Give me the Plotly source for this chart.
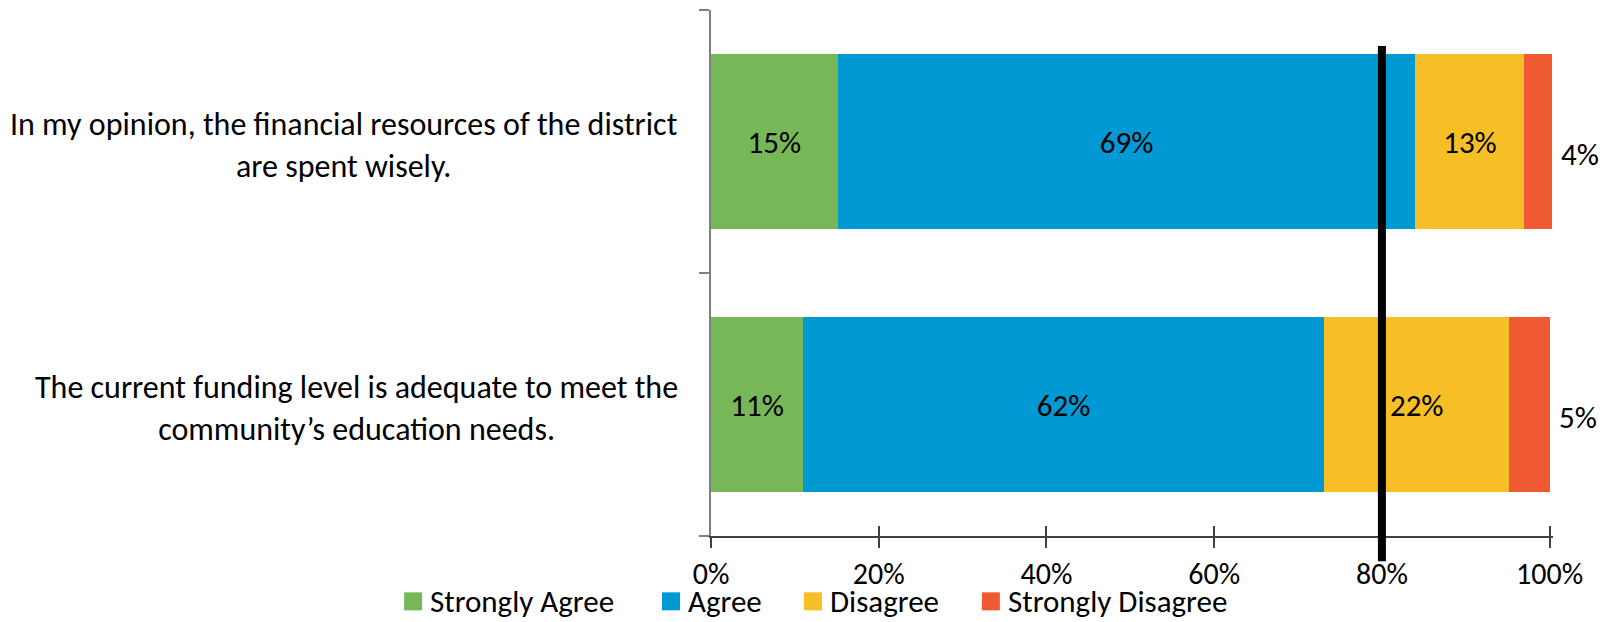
import plotly.graph_objects as go

# ---------------- data ----------------
questions = [
    "In my opinion, the financial resources of the district<br>are spent wisely.",
    "The current funding level is adequate to meet the<br>community’s education needs.",
]
series_names = ["Strongly Agree", "Agree", "Disagree", "Strongly Disagree"]
strongly_agree = [15.1, 11.0]
agree = [68.9, 62.1]
disagree = [13.0, 22.1]
strongly_disagree = [3.3, 4.9]
strongly_agree_labels = ["15%", "11%"]
agree_labels = ["69%", "62%"]
disagree_labels = ["13%", "22%"]
strongly_disagree_labels = ["4%", "5%"]
target = 80
x_ticks = [0, 20, 40, 60, 80, 100]
x_tick_labels = ["0%", "20%", "40%", "60%", "80%", "100%"]

# ---------------- style ----------------
colors = ["#77B757", "#0099D3", "#F7BF26", "#F05A32"]
FONT = "Carlito, Calibri, Lato, sans-serif"
FS_CAT = 32
FS_LAB = 31
FS_TICK = 30
FS_LEG = 31
PAGE_W, PAGE_H = 1615, 622
OFF = 8  # default body margin of the html page
W, H = PAGE_W - OFF, PAGE_H - OFF
L_PX, R_PX, T_PX, B_PX = 711, 1553.4, 10, 535.7  # plot area in page pixels


def px_x(px):
    return (px - L_PX) / (R_PX - L_PX)


def px_y(py):
    return (B_PX - py) / (B_PX - T_PX)


fig = go.Figure()
values = [strongly_agree, agree, disagree, strongly_disagree]
labels = [strongly_agree_labels, agree_labels, disagree_labels, [""] * len(questions)]
for name, vals, labs, col in zip(series_names, values, labels, colors):
    fig.add_trace(go.Bar(
        y=questions, x=vals, name=name, orientation="h",
        marker=dict(color=col, line=dict(width=0)),
        text=labs, textposition="inside", insidetextanchor="middle",
        textfont=dict(family=FONT, size=FS_LAB, color="black"),
        hoverinfo="skip", showlegend=False,
    ))

# outside labels for the last series
for i, q in enumerate(questions):
    total = strongly_agree[i] + agree[i] + disagree[i] + strongly_disagree[i]
    fig.add_annotation(x=total, y=q, xref="x", yref="y", text=strongly_disagree_labels[i],
                       showarrow=False, xanchor="left", xshift=7, yshift=-12,
                       font=dict(family=FONT, size=FS_LAB, color="black"))

# category labels (centered multi-line)
for q in questions:
    fig.add_annotation(x=0, y=q, xref="paper", yref="y", text=q, showarrow=False,
                       xanchor="right", align="center", xshift=-31, yshift=-4,
                       font=dict(family=FONT, size=FS_CAT, color="black"))

# target line
fig.add_shape(type="line", x0=target, x1=target, xref="x", yref="paper",
              y0=px_y(561), y1=px_y(46), line=dict(color="black", width=8), layer="above")

# manual legend
legend_sq_left = [404, 662, 804, 982]
SQ = 18
LEG_Y = 601
for name, col, sx in zip(series_names, colors, legend_sq_left):
    fig.add_shape(type="rect", xref="paper", yref="paper",
                  x0=px_x(sx), x1=px_x(sx + SQ), y0=px_y(LEG_Y + SQ / 2), y1=px_y(LEG_Y - SQ / 2),
                  fillcolor=col, line=dict(width=0), layer="above")
    fig.add_annotation(x=px_x(sx + SQ + 6), y=px_y(LEG_Y), xref="paper", yref="paper",
                       text=name, showarrow=False, xanchor="left", yanchor="middle",
                       font=dict(family=FONT, size=FS_LEG, color="black"))

fig.update_layout(
    width=W, height=H,
    barmode="stack", bargap=0.332,
    plot_bgcolor="white", paper_bgcolor="white",
    margin=dict(l=L_PX - OFF, r=PAGE_W - R_PX, t=T_PX - OFF, b=PAGE_H - B_PX, pad=0),
    showlegend=False,
    xaxis=dict(range=[0, 100.4], tickvals=x_ticks, ticktext=x_tick_labels,
               showgrid=False, zeroline=False, showline=True, linecolor="#404040", linewidth=1.5,
               ticks="outside", ticklen=10, tickcolor="#404040", tickwidth=1.5,
               ticklabelstandoff=0,
               tickfont=dict(family=FONT, size=FS_TICK, color="black")),
    xaxis2=dict(matches="x", overlaying="x", anchor="y", showgrid=False, zeroline=False,
                showline=False, ticks="inside", ticklen=10, tickcolor="#404040", tickwidth=1.5,
                tickvals=x_ticks, showticklabels=False),
    yaxis=dict(type="category", categoryorder="array", categoryarray=questions[::-1],
               range=[-0.5, 1.5], showgrid=False, zeroline=False, showline=True,
               linecolor="#808080", linewidth=2, ticks="outside", ticklen=10,
               tickcolor="#808080", tickwidth=1.5, tickson="boundaries", showticklabels=False),
)
# dummy trace to activate xaxis2 (inside half of the crossing ticks)
fig.add_trace(go.Scatter(x=[None], y=[None], xaxis="x2", yaxis="y", showlegend=False, hoverinfo="skip"))

fig.write_html("out.html")
